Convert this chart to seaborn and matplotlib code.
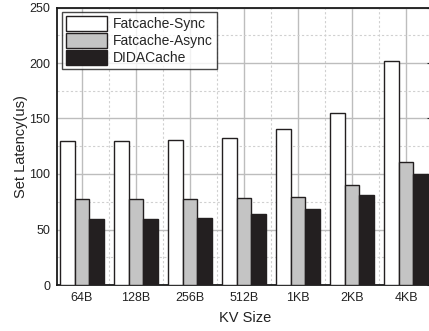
import matplotlib
matplotlib.use("Agg")
import matplotlib.pyplot as plt
from matplotlib.ticker import MultipleLocator, FixedLocator
import seaborn as sns
import pandas as pd
import numpy as np

categories = ["64B", "128B", "256B", "512B", "1KB", "2KB", "4KB"]
series_names = ["Fatcache-Sync", "Fatcache-Async", "DIDACache"]
sync_vals = [129.4, 129.4, 130.3, 132.7, 140.8, 155.2, 201.8]
async_vals = [77.2, 77.8, 77.5, 78.6, 79.3, 90.0, 110.5]
dida_vals = [59.2, 59.8, 60.7, 63.7, 68.2, 81.4, 99.7]
colors = ["#ffffff", "#c4c4c4", "#231f20"]

df = pd.DataFrame({
    "KV Size": categories * 3,
    "Latency": sync_vals + async_vals + dida_vals,
    "Series": [series_names[0]] * 7 + [series_names[1]] * 7 + [series_names[2]] * 7,
})

sns.set_style("white")
plt.rcParams["font.family"] = ["Liberation Sans", "DejaVu Sans"]

fig = plt.figure(figsize=(4.29, 3.31), dpi=100)
ax = fig.add_axes([57 / 429, 46 / 331, 376 / 429, 277.5 / 331])

sns.barplot(data=df, x="KV Size", y="Latency", hue="Series", palette=colors,
            order=categories, hue_order=series_names, width=0.81,
            edgecolor="#231f20", linewidth=1.0, saturation=1, ax=ax, zorder=3)

ax.set_xlim(-0.463, 6.5)
ax.set_ylim(0, 250)
ax.yaxis.set_major_locator(MultipleLocator(50))
ax.yaxis.set_minor_locator(MultipleLocator(25))
ax.xaxis.set_minor_locator(FixedLocator(np.arange(-0.5, 7, 1.0)))
ax.grid(True, which="major", color="#bdbdbd", linewidth=1.0, zorder=0)
ax.grid(True, which="minor", color="#d0d0d0", linewidth=0.8, linestyle=(0, (2, 2)), zorder=0)
ax.set_axisbelow(True)

ax.tick_params(axis="both", which="major", direction="in", length=4, width=0.8,
               labelsize=9, colors="#222222", top=False, right=True, pad=5)
ax.tick_params(axis="both", which="minor", direction="in", length=2.5, width=0.8,
               right=True)
for sp in ax.spines.values():
    sp.set_color("#1a1a1a")
    sp.set_linewidth(1.3)

ax.set_xlabel("KV Size", fontsize=10.5, color="#222222", labelpad=5)
ax.set_ylabel("Set Latency(us)", fontsize=10.5, color="#222222", labelpad=1)

leg = ax.legend(loc="upper left", bbox_to_anchor=(0.012, 0.985), fontsize=10,
                frameon=True, fancybox=False, edgecolor="#1a1a1a",
                handlelength=3.0, handleheight=1.3, handletextpad=0.4,
                labelspacing=0.12, borderpad=0.3, borderaxespad=0.0)
leg.get_frame().set_linewidth(1.0)

fig.savefig("out.png", dpi=100)
